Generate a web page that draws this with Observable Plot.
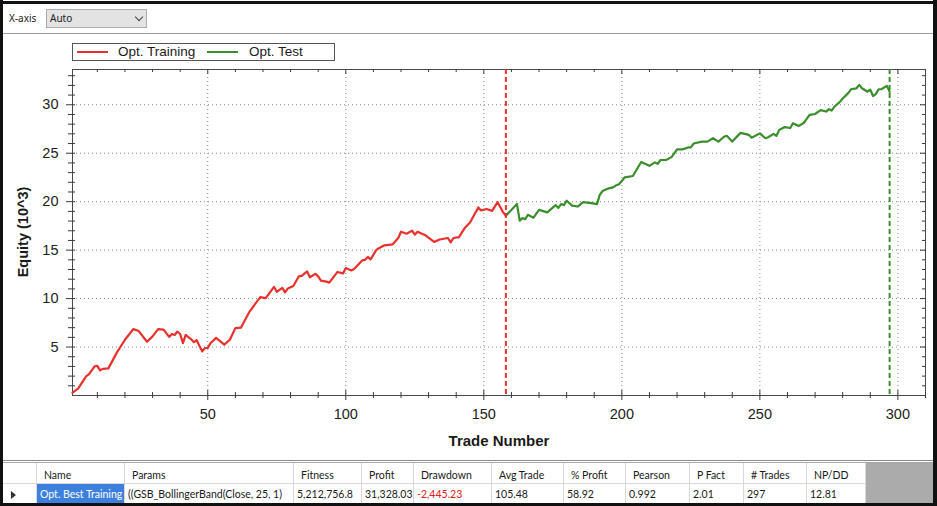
<!DOCTYPE html>
<html><head><meta charset="utf-8">
<script src="https://cdn.jsdelivr.net/npm/d3@7"></script>
<script src="https://cdn.jsdelivr.net/npm/@observablehq/plot@0.6"></script>
<style>
html,body{margin:0;padding:0;background:#fff;}
#page{position:relative;width:937px;height:506px;overflow:hidden;background:#fff;font-family:"Liberation Sans",Arial,sans-serif;}
.abs{position:absolute;}
#chart{position:absolute;left:0;top:34px;}
.cell{position:absolute;box-sizing:border-box;font-family:Lato,"Noto Sans",sans-serif;font-size:10.5px;color:#1a1a1a;white-space:nowrap;overflow:hidden;border-right:1px solid #d9d9d9;}
</style></head>
<body><div id="page">
  <!-- outer frame -->
  <div class="abs" style="left:0;top:1px;width:937px;height:3px;background:#111;"></div>
  <div class="abs" style="left:0;top:0;width:3px;height:506px;background:#111;"></div>
  <div class="abs" style="left:933px;top:0;width:4px;height:506px;background:#111;"></div>
  <div class="abs" style="left:0;top:503px;width:937px;height:3px;background:#111;"></div>
  <!-- top bar -->
  <div class="abs" id="xaxisLbl" style="left:9px;top:11px;font-family:'Noto Sans',sans-serif;font-size:10px;color:#222;"></div>
  <div class="abs" style="left:46px;top:9px;width:101px;height:19px;box-sizing:border-box;background:#e3e3e3;border:1px solid #adadad;"></div>
  <div class="abs" id="xaxisVal" style="left:50px;top:11px;font-family:'Noto Sans',sans-serif;font-size:10px;color:#222;"></div>
  <div class="abs" style="left:136px;top:14px;width:5px;height:5px;border-right:1px solid #444;border-bottom:1px solid #444;transform:rotate(45deg);"></div>
  <div class="abs" style="left:3px;top:33px;width:930px;height:1px;background:#9a9a9a;"></div>
  <!-- legend -->
  <div class="abs" id="legend" style="left:72px;top:43px;width:263px;height:18px;box-sizing:border-box;border:1px solid #555;background:#fff;"></div>
  <!-- axis titles -->
  <div class="abs" id="ylab" style="left:23px;top:232px;transform:translate(-50%,-50%) rotate(-90deg);font-weight:bold;font-size:14.5px;color:#1a1a1a;white-space:nowrap;"></div>
  <div class="abs" id="xlab" style="left:499px;top:440px;transform:translate(-50%,-50%);font-weight:bold;font-size:15px;color:#1a1a1a;white-space:nowrap;"></div>
  <!-- table -->
  <div class="abs" style="left:3px;top:460px;width:930px;height:1px;background:#8a8a8a;"></div>
  <div class="abs" style="left:3px;top:462px;width:930px;height:1px;background:#a8a8a8;"></div>
  <div class="abs" id="table" style="left:0;top:463px;width:937px;height:40px;"></div>
  <div id="chart"></div>
</div>
<script>
// ---------- data ----------
const trainTrades = [1,3,6,7,9,10,11,12,14,17,20,23,25,28,30,32,34,36,37,38,39,40,41,42,44,45,46,47,48,49,50,51,53,56,58,60,62,65,66,69,71,74,75,77,78,79,81,83,84,86,87,89,90,91,93,94,97,99,100,102,103,106,107,108,109,111,112,114,117,119,120,122,124,125,126,129,132,134,137,138,139,141,143,145,148,149,151,153,155,157,158];
const trainEquity = [0.3,0.7,2.0,2.2,3.0,3.05,2.6,2.75,2.8,4.4,5.75,6.85,6.65,5.55,6.1,6.85,6.8,6.05,6.35,6.25,6.6,6.35,5.4,6.25,5.8,5.5,5.7,5.1,4.55,4.9,4.9,5.4,5.95,5.25,5.75,6.95,7.0,8.6,9.0,10.15,10.05,11.2,10.7,11.1,10.65,11.05,11.3,12.3,12.35,12.8,12.2,12.55,12.3,11.85,11.75,11.65,12.75,12.6,13.15,12.9,13.05,13.95,14.0,14.3,14.05,15.0,15.2,15.5,15.6,16.25,16.9,16.7,17.0,16.6,16.9,16.5,15.85,16.1,16.25,15.8,16.25,16.35,17.25,17.85,19.4,19.1,19.25,19.05,19.95,18.9,18.55];
const testTrades = [158,162,163,164,165,166,168,170,173,176,177,178,179,180,182,184,186,189,191,192,193,195,197,198,199,201,204,207,210,212,213,214,216,218,220,222,224,225,226,229,231,233,235,237,238,240,243,246,247,250,252,253,255,256,257,259,261,262,264,266,268,270,272,274,275,276,277,279,280,282,283,285,286,287,289,290,291,292,293,294,296,297];
const testEquity = [18.55,19.75,18.05,18.3,18.2,18.65,18.35,19.15,18.9,19.65,19.35,19.75,19.65,20.1,19.6,19.5,19.95,19.85,19.75,20.7,21.1,21.35,21.5,21.7,21.8,22.5,22.65,24.1,23.7,24.05,23.9,24.3,24.3,24.6,25.4,25.4,25.6,25.6,26.0,26.2,26.2,26.55,26.2,26.7,26.8,26.2,27.1,26.9,26.6,27.05,26.55,26.65,27.0,26.8,27.4,27.7,27.6,28.1,27.8,28.15,28.95,29.05,29.45,29.3,29.55,29.4,29.8,30.3,30.65,31.2,31.6,31.7,32.05,31.7,31.35,31.55,30.9,31.1,31.6,31.6,31.95,31.33];
const splitTrade = [158];
const lastTrade = [297];
const seriesNames = ["Opt. Training", "Opt. Test"];
const xMajorTicks = [50,100,150,200,250,300];
const xMinorTicks = [10,20,30,40,60,70,80,90,110,120,130,140,160,170,180,190,210,220,230,240,260,270,280,290,310];
const yMajorTicks = [5,10,15,20,25,30];
const yMinorTicks = [1,2,3,4,6,7,8,9,11,12,13,14,16,17,18,19,21,22,23,24,26,27,28,29,31,32,33];
const xDomain = [1, 310];
const yDomain = [0, 33.64];
const xTitle = "Trade Number";
const yTitle = "Equity (10^3)";
const tableHeaders = ["", "Name", "Params", "Fitness", "Profit", "Drawdown", "Avg Trade", "% Profit", "Pearson", "P Fact", "# Trades", "NP/DD"];
const tableRow = ["", "Opt. Best Training", "((GSB_BollingerBand(Close, 25, 1)", "5,212,756.8", "31,328.03", "-2,445.23", "105.48", "58.92", "0.992", "2.01", "297", "12.81"];

// ---------- styles ----------
const RED = "#e8302c", GREEN = "#3a8e2c";
const W = 932, H = 426, mL = 72, mR = 7, mT = 35, mB = 65;
const iw = W - mL - mR, ih = H - mT - mB;
const colEdges = [3,37,125,294,362,414,492,564,626,690,744,807,866];

// ---------- chart ----------
const train = trainTrades.map((t, i) => ({trade: t, equity: trainEquity[i]}));
const test = testTrades.map((t, i) => ({trade: t, equity: testEquity[i]}));
const tk = "#3a3a3a";
const chart = Plot.plot({
  width: W, height: H,
  marginLeft: mL, marginRight: mR, marginTop: mT, marginBottom: mB,
  x: {domain: xDomain},
  y: {domain: yDomain},
  style: {background: "transparent", fontFamily: "'Liberation Sans', Arial, sans-serif", overflow: "visible"},
  marks: [
    Plot.gridX(xMajorTicks, {stroke: "#8a8a8a", strokeOpacity: 1, strokeDasharray: "1,3"}),
    Plot.gridY(yMajorTicks, {stroke: "#8a8a8a", strokeOpacity: 1, strokeDasharray: "1,3"}),
    Plot.frame({stroke: "#4a4a4a"}),
    Plot.ruleX(xMinorTicks, {x: d => d, stroke: tk, insetTop: ih - 3, insetBottom: -3}),
    Plot.ruleX(xMajorTicks, {x: d => d, stroke: tk, insetTop: ih - 5, insetBottom: -5}),
    Plot.ruleX(xMinorTicks, {x: d => d, stroke: tk, insetBottom: ih - 3}),
    Plot.ruleX(xMajorTicks, {x: d => d, stroke: tk, insetBottom: ih - 5}),
    Plot.ruleY(yMinorTicks, {y: d => d, stroke: tk, insetLeft: -4, insetRight: iw - 3}),
    Plot.ruleY(yMajorTicks, {y: d => d, stroke: tk, insetLeft: -6, insetRight: iw - 3}),
    Plot.ruleY(yMinorTicks, {y: d => d, stroke: tk, insetLeft: iw - 3}),
    Plot.ruleY(yMajorTicks, {y: d => d, stroke: tk, insetLeft: iw - 5}),
    Plot.axisX(xMajorTicks, {tickSize: 0, tickPadding: 13, fontSize: 14.5, fill: "#222", label: null}),
    Plot.axisY(yMajorTicks, {tickSize: 0, tickPadding: 14, fontSize: 14.5, fill: "#222", label: null}),
    Plot.line(train, {x: "trade", y: "equity", stroke: RED, strokeWidth: 2.2}),
    Plot.line(test, {x: "trade", y: "equity", stroke: GREEN, strokeWidth: 2.2}),
    Plot.ruleX(splitTrade, {x: d => d, stroke: RED, strokeWidth: 2, strokeDasharray: "5,3"}),
    Plot.ruleX(lastTrade, {x: d => d, stroke: GREEN, strokeWidth: 2, strokeDasharray: "5,3"})
  ]
});
document.getElementById("chart").appendChild(chart);

// ---------- texts ----------
document.getElementById("xaxisLbl").textContent = "X-axis";
document.getElementById("xaxisVal").textContent = "Auto";
document.getElementById("xlab").textContent = xTitle;
document.getElementById("ylab").textContent = yTitle;

// legend
const legend = document.getElementById("legend");
const legCols = [RED, GREEN];
const legOffsets = [[4, 45], [134, 176]];
seriesNames.forEach((name, i) => {
  const sw = document.createElement("div");
  sw.style.cssText = `position:absolute;left:${legOffsets[i][0]}px;top:7px;width:31px;height:2px;background:${legCols[i]};`;
  legend.appendChild(sw);
  const tx = document.createElement("div");
  tx.textContent = name;
  tx.style.cssText = `position:absolute;left:${legOffsets[i][1]}px;top:0px;font-size:13.5px;line-height:16px;color:#1a1a1a;white-space:nowrap;`;
  legend.appendChild(tx);
});

// table
const table = document.getElementById("table");
[tableHeaders, tableRow].forEach((row, r) => {
  row.forEach((txt, c) => {
    const d = document.createElement("div");
    d.className = "cell";
    const left = colEdges[c], right = colEdges[c + 1];
    d.style.left = left + "px";
    d.style.width = (right - left) + "px";
    if (r === 0) {
      d.style.top = "0px"; d.style.height = "21px";
      d.style.paddingTop = "3px"; d.style.lineHeight = "18px";
      d.style.paddingLeft = "7px";
      d.style.borderBottom = "1px solid #d9d9d9";
    } else {
      d.style.top = "21px"; d.style.height = "19px";
      d.style.paddingTop = "1px"; d.style.lineHeight = "18px";
      d.style.paddingLeft = "3px";
    }
    d.textContent = txt;
    if (r === 1 && c === 1) { d.style.background = "#3d7fdc"; d.style.color = "#fff"; }
    if (r === 1 && c === 5) { d.style.color = "#e02020"; }
    if (r === 1 && c === 0) {
      d.innerHTML = "";
      const tri = document.createElement("div");
      tri.style.cssText = "position:absolute;left:8px;top:7px;width:0;height:0;border-top:4px solid transparent;border-bottom:4px solid transparent;border-left:5px solid #333;";
      d.appendChild(tri);
    }
    table.appendChild(d);
  });
});
const gray = document.createElement("div");
gray.style.cssText = `position:absolute;left:${colEdges[colEdges.length - 1]}px;top:0;width:${933 - colEdges[colEdges.length - 1]}px;height:40px;background:#ababab;`;
table.appendChild(gray);
</script>
</body></html>
